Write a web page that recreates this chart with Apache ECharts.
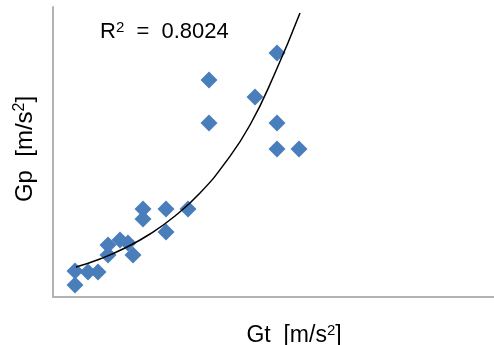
<!DOCTYPE html>
<html>
<head>
<meta charset="utf-8">
<script src="https://cdn.jsdelivr.net/npm/echarts@6/dist/echarts.min.js"></script>
<style>
  html, body { margin: 0; padding: 0; background: #fff; }
  #chart { width: 494px; height: 345px; }
</style>
</head>
<body>
<div id="chart"></div>
<script>
var gtValues = [22, 22, 35, 45, 55, 55, 67, 75, 80, 90, 90, 113, 113, 135, 156, 156, 202, 224, 224, 224, 246];
var gpValues = [12, 26, 25, 25, 52, 42, 57, 54, 42, 88, 78, 88, 65, 88, 217, 174, 200, 244, 174, 148, 148];

// exponential trendline
var trendX = [23, 47, 72, 97, 122, 147, 172, 197, 222, 247];
var trendY = [30, 38, 49, 63, 81, 104, 134, 172, 224, 284];

var r2Value = '0.8024';

var points = [];
for (var i = 0; i < gtValues.length; i++) {
  points.push([gtValues[i], gpValues[i]]);
}
var trend = [];
for (var j = 0; j < trendX.length; j++) {
  trend.push([trendX[j], trendY[j]]);
}

var chart = echarts.init(document.getElementById('chart'));
var font = 'Liberation Sans, Arial, sans-serif';

// text with a real superscript "2"
function supRich(size) {
  return {
    b: { fontFamily: font, fontSize: size, color: '#000', lineHeight: size + 2 },
    sup: { fontFamily: font, fontSize: Math.round(size * 0.66), color: '#000', verticalAlign: 'top', lineHeight: size + 2 }
  };
}

chart.setOption({
  animation: false,
  backgroundColor: '#fff',
  title: {
    text: '{b|R}{sup|2}{b|  =  ' + r2Value + '}',
    left: 95,
    top: 15,
    textStyle: { fontFamily: font, fontSize: 22, fontWeight: 'normal', color: '#000', rich: supRich(22) }
  },
  grid: { left: 53, right: -41, top: 7, bottom: 48, outerBoundsMode: 'none', containLabel: false },
  xAxis: {
    type: 'value',
    min: 0,
    max: 482,
    name: '{b|Gt  [m/s}{sup|2}{b|]}',
    nameLocation: 'middle',
    nameGap: 26,
    nameTextStyle: { fontFamily: font, fontSize: 23, color: '#000', rich: supRich(23) },
    axisLine: { show: true, lineStyle: { color: '#b3b3b3', width: 2 } },
    axisTick: { show: false },
    axisLabel: { show: false },
    splitLine: { show: false }
  },
  yAxis: {
    type: 'value',
    min: 0,
    max: 290,
    name: '{b|Gp  [m/s}{sup|2}{b|]}',
    nameLocation: 'middle',
    nameGap: 15,
    nameTextStyle: { fontFamily: font, fontSize: 24, color: '#000', rich: supRich(24), padding: [0, 0, 0, 6] },
    axisLine: { show: true, lineStyle: { color: '#b3b3b3', width: 2 } },
    axisTick: { show: false },
    axisLabel: { show: false },
    splitLine: { show: false }
  },
  series: [
    {
      type: 'scatter',
      data: points,
      symbol: 'diamond',
      symbolSize: 17,
      itemStyle: { color: '#4a7ebb', opacity: 1 }
    },
    {
      type: 'line',
      data: trend,
      smooth: true,
      showSymbol: false,
      lineStyle: { color: '#000', width: 1.5 },
      z: 3
    }
  ]
});
</script>
</body>
</html>
